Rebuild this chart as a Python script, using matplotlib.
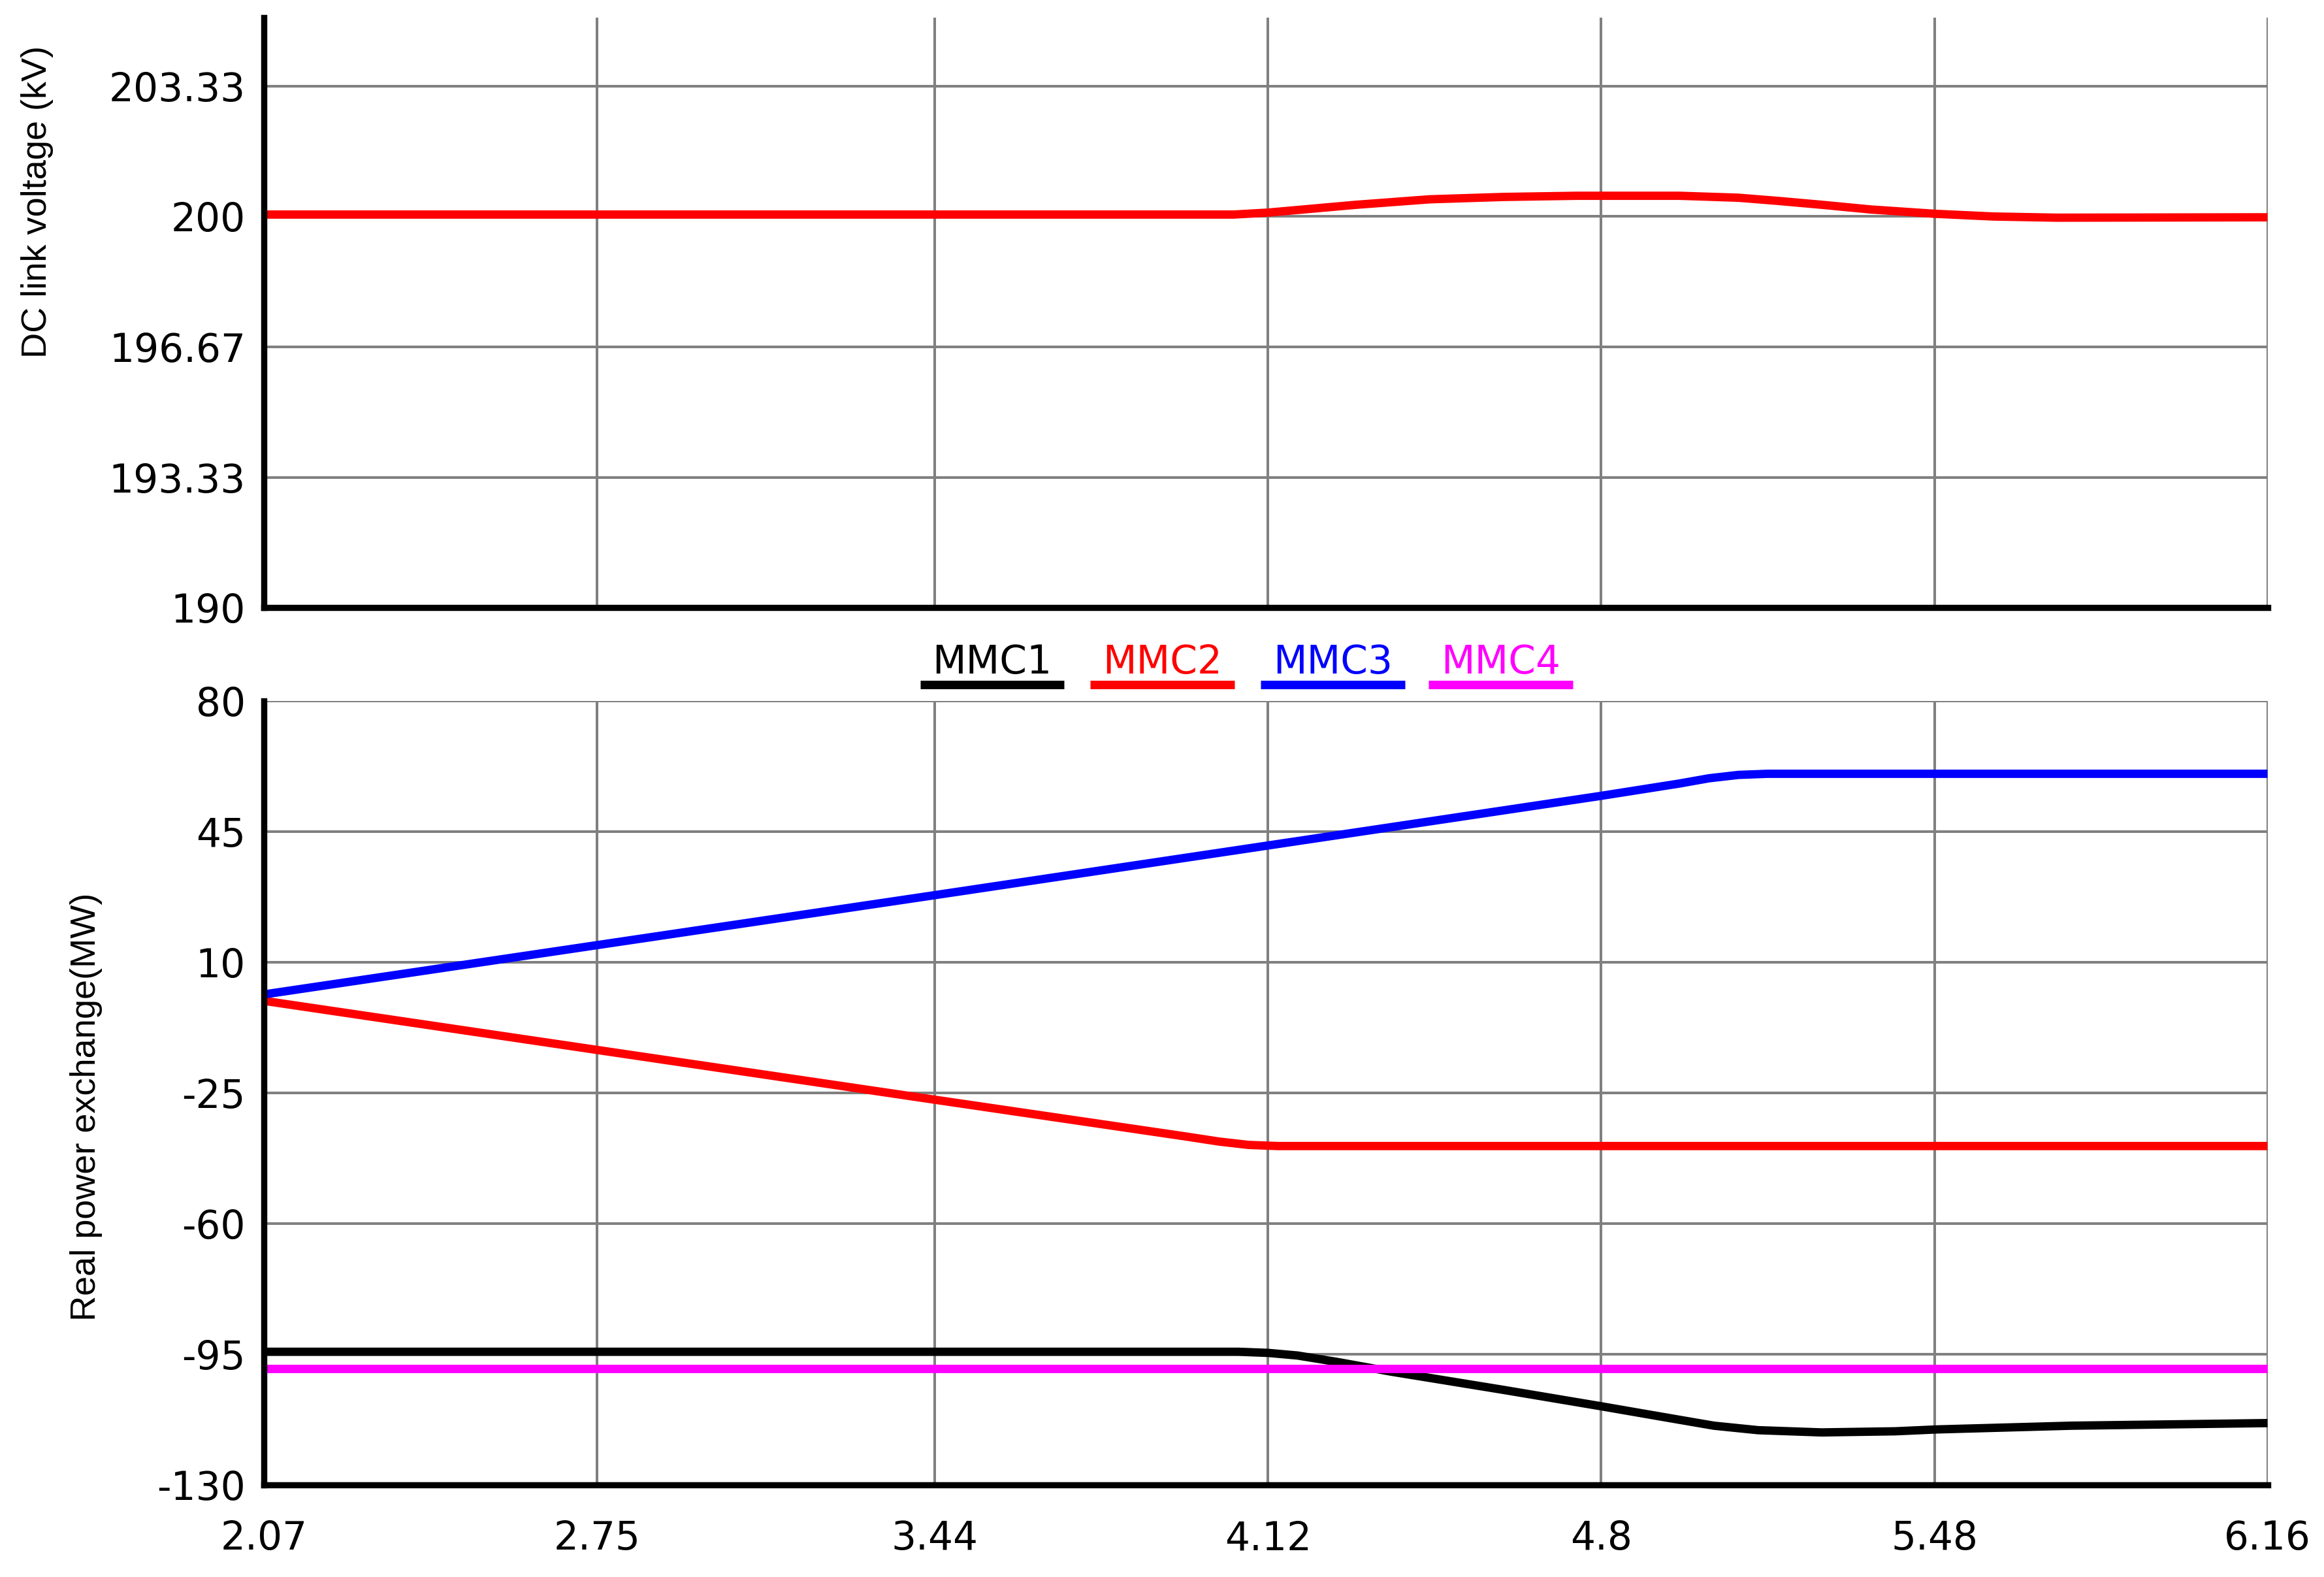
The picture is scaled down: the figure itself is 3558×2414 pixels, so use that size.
import numpy as np
import matplotlib
matplotlib.use("Agg")
import matplotlib.pyplot as plt

# time axis ticks (s)
x_ticks = [2.07, 2.75, 3.44, 4.12, 4.8, 5.48, 6.16]
x_labels = ["2.07", "2.75", "3.44", "4.12", "4.8", "5.48", "6.16"]

# DC link voltage (kV)
v_ticks = [190, 193.33, 196.67, 200, 203.33]
v_labels = ["190", "193.33", "196.67", "200", "203.33"]
t_vdc = [2.07, 4.05, 4.12, 4.3, 4.45, 4.6, 4.75, 4.96, 5.08, 5.16, 5.25, 5.35, 5.48, 5.6, 5.73, 6.16]
vdc = [200.05, 200.05, 200.1, 200.3, 200.44, 200.5, 200.53, 200.53, 200.48, 200.4, 200.3, 200.18, 200.07, 200.0, 199.97, 199.98]

# real power exchange (MW)
p_ticks = [-130, -95, -60, -25, 10, 45, 80]
t_mmc1 = [2.07, 4.06, 4.12, 4.18, 4.26, 4.37, 4.6, 4.8, 4.95, 5.03, 5.12, 5.25, 5.4, 5.485, 5.76, 6.16]
p_mmc1 = [-94.3, -94.3, -94.6, -95.3, -97.0, -99.6, -104.5, -108.9, -112.3, -114.1, -115.3, -115.9, -115.6, -115.1, -114.1, -113.4]
t_mmc2 = [2.07, 3.44, 3.95, 4.02, 4.08, 4.14, 6.16]
p_mmc2 = [-0.3, -26.8, -36.6, -38.0, -38.9, -39.2, -39.2]
t_mmc3 = [2.07, 3.44, 4.12, 4.8, 4.96, 5.02, 5.08, 5.14, 6.16]
p_mmc3 = [1.4, 28.0, 41.3, 54.6, 57.9, 59.3, 60.2, 60.5, 60.5]
t_mmc4 = [2.07, 6.16]
p_mmc4 = [-98.8, -98.8]

names = ["MMC1", "MMC2", "MMC3", "MMC4"]
colors = ["black", "red", "blue", "magenta"]

tick_font = "DejaVu Sans"
label_font = "Liberation Sans"
tick_size = 21.5
lw_data = 4.6

fig = plt.figure(figsize=(17.79, 12.07), dpi=200)
ax1 = fig.add_axes([0.1135, 0.6147, 0.8622, 0.3740])
ax2 = fig.add_axes([0.1135, 0.0583, 0.8622, 0.4972])

for ax in (ax1, ax2):
    ax.set_xlim(2.07, 6.16)
    ax.set_xticks(x_ticks)
    ax.grid(True, color="#808080", lw=1.45)
    ax.set_axisbelow(True)
    for s in ("top", "right"):
        ax.spines[s].set_visible(False)
    for s in ("left", "bottom"):
        ax.spines[s].set_linewidth(3.4)
        ax.spines[s].set_color("black")
    ax.tick_params(length=0, labelsize=tick_size)

# top panel
ax1.plot(t_vdc, vdc, color="red", lw=lw_data, solid_capstyle="butt")
ax1.set_ylim(190, 205.08)
ax1.set_yticks(v_ticks)
ax1.set_yticklabels(v_labels, family=tick_font, fontsize=tick_size)
ax1.set_xticklabels([])
ax1.tick_params(axis="y", pad=10)

# bottom panel
series = [(t_mmc1, p_mmc1), (t_mmc2, p_mmc2), (t_mmc3, p_mmc3), (t_mmc4, p_mmc4)]
for (t, p), c in zip(series, colors):
    ax2.plot(t, p, color=c, lw=lw_data, solid_capstyle="butt")
ax2.set_ylim(-130, 80)
ax2.set_yticks(p_ticks)
ax2.set_yticklabels([str(v) for v in p_ticks], family=tick_font, fontsize=tick_size)
ax2.set_xticklabels(x_labels, family=tick_font, fontsize=tick_size)
ax2.tick_params(axis="y", pad=10)
ax2.tick_params(axis="x", pad=19)

# legend: coloured names with a bar underneath
leg_x = [0.3635, 0.4485, 0.5336, 0.6172]
for xc, name, c in zip(leg_x, names, colors):
    ax2.text(xc, 1.049, name, color=c, ha="center", va="center",
             family=tick_font, fontsize=tick_size, transform=ax2.transAxes)
    ax2.plot([xc - 0.036, xc + 0.036], [1.021, 1.021], color=c, lw=4.7,
             solid_capstyle="butt", transform=ax2.transAxes, clip_on=False)

fig.text(0.016, 0.872, "DC link voltage (kV)", rotation=90, ha="center", va="center",
         family=label_font, fontsize=19.5)
fig.text(0.037, 0.298, "Real power exchange(MW)", rotation=90, ha="center", va="center",
         family=label_font, fontsize=19.5)

fig.savefig("out.png", dpi=200, facecolor="white")
